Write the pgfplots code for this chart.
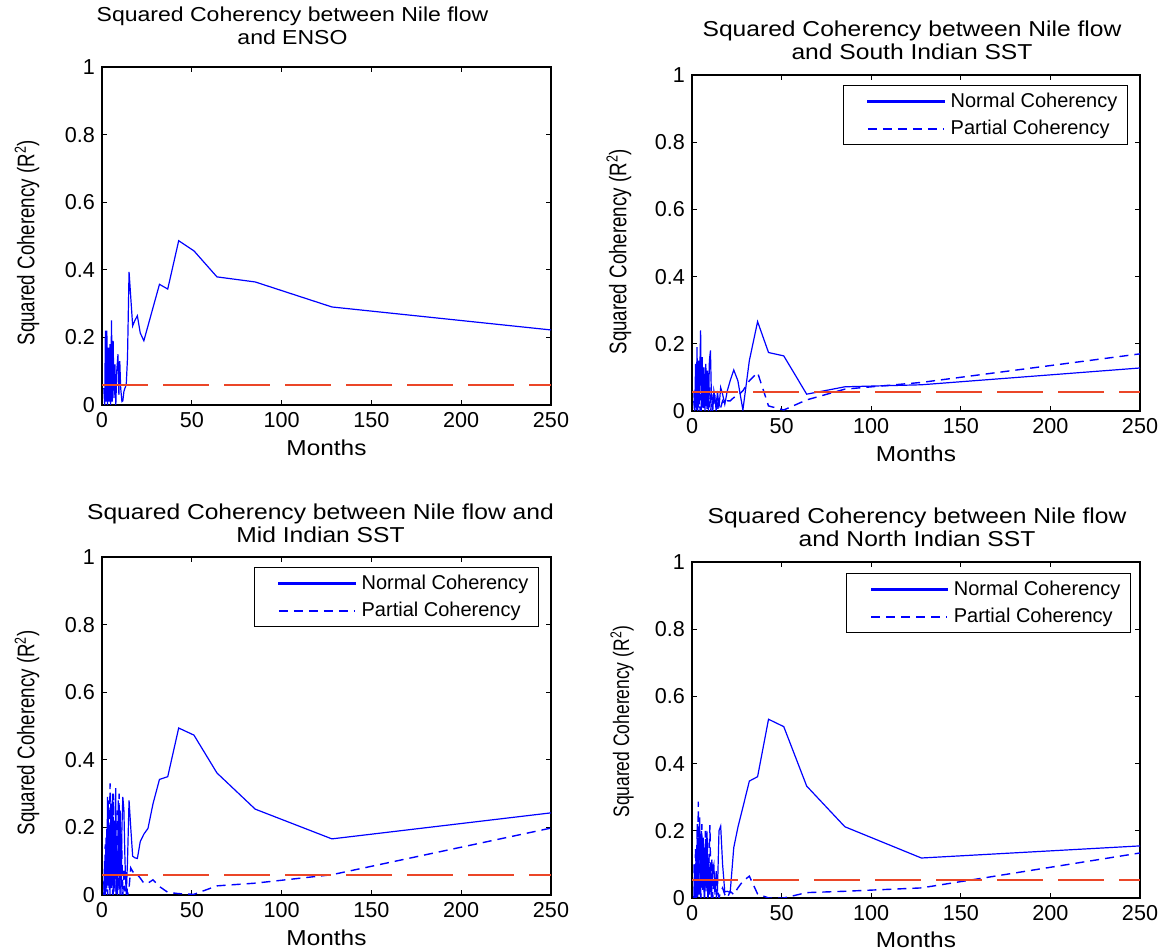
\documentclass[border=0pt]{standalone}
\usepackage{fontspec}
\setmainfont{Liberation Sans}
\usepackage{graphicx}
\usepackage{pgfplots}
\pgfplotsset{compat=1.18}
\definecolor{refred}{RGB}{235,70,40}
\newcommand{\ttl}[2]{\scalebox{1.14}[1]{\begin{tabular}{@{}c@{}}#1\\#2\end{tabular}}}
\pgfplotsset{
  cohax/.style={
    scale only axis, width=224.5pt, height=169pt,
    xmin=0, xmax=250, ymin=0, ymax=1,
    xtick={0,50,100,150,200,250}, ytick={0,0.2,0.4,0.6,0.8,1},
    tick align=inside, major tick length=2.5pt,
    axis line style={line width=0.6pt},
    every tick/.style={black, line width=0.6pt},
    /pgf/number format/assume math mode=true,
    tick label style={font=\fontsize{10.8}{12}\selectfont},
    xlabel={\scalebox{1.13}[1]{Months}},
    xlabel style={at={(axis description cs:0.5,0)}, anchor=base, yshift=-25.3pt, font=\fontsize{10.8}{12}\selectfont},
    ylabel={\scalebox{0.78}[1]{Squared Coherency (R\textsuperscript{2})}},
    ylabel style={at={(axis description cs:-0.167,0.48)}, anchor=center, font=\fontsize{12}{13}\selectfont},
    title style={at={(axis description cs:0.5,1)}, anchor=south, inner sep=0pt, font=\fontsize{10.8}{11.5}\selectfont},
    legend style={at={(0.973,0.97)}, anchor=north east, draw=black, line width=0.5pt,
      font=\fontsize{10}{12}\selectfont, inner xsep=3pt, inner ysep=1.5pt, row sep=1pt, cells={anchor=west}},
  },
  normal/.style={blue, line width=0.6pt, solid,
    legend image code/.code={\path (0pt,0pt); \path (48pt,0pt); \fill[blue] (9pt,-0.35pt) rectangle (47pt,0.35pt);}},
  partial/.style={blue, line width=0.7pt, dash pattern=on 4.5pt off 3pt,
    legend image code/.code={\path (0pt,0pt); \path (48pt,0pt); \draw[##1, draw=blue, line width=0.7pt] (9pt,0pt) -- (47pt,0pt);}},
  thresh/.style={refred, line width=1pt, dash pattern=on 23pt off 7.5pt, forget plot},
}
\begin{document}
\begin{tikzpicture}
\path[use as bounding box] (0,0) rectangle (583.5pt,475.5pt);

% Top-left: ENSO
\begin{axis}[cohax, at={(51pt,273pt)}, anchor=south west,
  title={\ttl{Squared Coherency between Nile flow}{and ENSO}},
  title style={yshift=1.4pt, xshift=-17pt, font=\fontsize{10.1}{11.5}\selectfont}]
\addplot[normal] coordinates {
(1.0,0.05)(1.5,0.0)(1.9,0.22)(2.3,0.01)(2.7,0.22)(3.1,0.0)(3.5,0.17)(3.9,0.01)(4.4,0.18)(4.8,0.0)(5.3,0.25)(5.7,0.01)(6.2,0.19)(6.7,0.02)(7.2,0.12)(7.7,0.0)(8.2,0.1)(8.9,0.15)(9.4,0.03)(9.9,0.13)(10.4,0.05)(11.1,0.01)(11.6,0.012)(12.2,0.04)(12.8,0.05)(13.5,0.06)(14.2,0.14)(15.06,0.394)(16,0.32)(17.07,0.234)(18.3,0.25)(19.7,0.264)(21.3,0.213)(23.3,0.19)(25.6,0.234)(28.4,0.288)(32,0.357)(36.6,0.343)(42.7,0.486)(51.2,0.456)(64,0.379)(85.3,0.364)(128,0.29)(250,0.222)};
\addplot[thresh] coordinates {(0,0.058)(250,0.058)};
\end{axis}

% Top-right: South Indian SST
\begin{axis}[cohax, at={(346pt,270pt)}, anchor=south west, width=224pt, height=168pt,
  title={\ttl{Squared Coherency between Nile flow}{and South Indian SST}},
  title style={yshift=-1.95pt, xshift=-2pt},
  ylabel style={at={(axis description cs:-0.163,0.474)}}]
\addplot[normal] coordinates {
(1.0,0.06)(1.5,0.0)(2.0,0.14)(2.4,0.01)(2.8,0.19)(3.2,0.0)(3.6,0.15)(4.0,0.02)(4.8,0.24)(5.2,0.0)(5.7,0.16)(6.2,0.02)(6.7,0.13)(7.2,0.0)(7.7,0.14)(8.2,0.02)(8.7,0.12)(9.2,0.0)(9.7,0.15)(10.3,0.18)(10.8,0.05)(11.6,0.0)(12.2,0.06)(12.8,0.04)(13.5,0.0)(14.2,0.06)(15.06,0.01)(16,0.07)(17.07,0.05)(18.3,0.02)(19.7,0.06)(21.3,0.09)(23.3,0.122)(25.6,0.09)(28.4,0.003)(32,0.15)(36.6,0.266)(42.7,0.174)(51.2,0.164)(64,0.05)(85.3,0.072)(128,0.078)(250,0.128)};
\addlegendentry{Normal Coherency}
\addplot[partial] coordinates {
(1.0,0.03)(1.5,0.0)(2.0,0.05)(2.5,0.0)(3.0,0.06)(3.5,0.01)(4.0,0.07)(4.5,0.0)(5.0,0.05)(5.5,0.01)(6.0,0.06)(6.5,0.0)(7.0,0.07)(7.5,0.01)(8.0,0.05)(8.5,0.0)(9.0,0.06)(9.5,0.01)(10.0,0.07)(10.5,0.0)(11.0,0.05)(11.6,0.02)(12.2,0.02)(12.8,0.05)(13.5,0.05)(14.2,0.0)(15.06,0.03)(16,0.01)(17.07,0.03)(18.3,0.02)(19.7,0.03)(21.3,0.03)(23.3,0.04)(25.6,0.045)(28.4,0.06)(32,0.09)(36.6,0.114)(42.7,0.015)(51.2,0.003)(64,0.033)(85.3,0.065)(128,0.085)(250,0.17)};
\addlegendentry{Partial Coherency}
\addplot[thresh] coordinates {(0,0.056)(250,0.056)};
\end{axis}

% Bottom-left: Mid Indian SST
\begin{axis}[cohax, at={(51pt,28pt)}, anchor=south west,
  title={\ttl{Squared Coherency between Nile flow and}{Mid Indian SST}},
  title style={yshift=-2.45pt, xshift=-3pt}]
\addplot[normal] coordinates {
(1.0,0.0)(1.4,0.1)(1.8,0.0)(2.2,0.17)(2.6,0.02)(3.1,0.29)(3.5,0.03)(4.0,0.2)(4.4,0.0)(4.9,0.27)(5.3,0.02)(5.8,0.3)(6.3,0.0)(6.8,0.22)(7.2,0.01)(7.6,0.316)(8.1,0.05)(8.6,0.0)(9.1,0.28)(9.6,0.02)(10.1,0.25)(10.6,0.0)(11.1,0.2)(11.6,0.29)(12.2,0.25)(12.8,0.1)(13.5,0.0)(14.2,0.1)(15.06,0.28)(16,0.2)(17.07,0.115)(18.3,0.11)(19.7,0.108)(21.3,0.158)(23.3,0.18)(25.6,0.197)(28.4,0.27)(32,0.342)(36.6,0.35)(42.7,0.494)(51.2,0.473)(64,0.361)(85.3,0.254)(128,0.166)(250,0.243)};
\addlegendentry{Normal Coherency}
\addplot[partial] coordinates {
(1.0,0.04)(1.4,0.0)(1.8,0.15)(2.2,0.01)(2.7,0.2)(3.1,0.0)(3.5,0.28)(3.9,0.02)(4.5,0.33)(5.0,0.03)(5.5,0.22)(5.9,0.0)(6.4,0.3)(6.9,0.05)(7.4,0.2)(7.9,0.0)(8.4,0.25)(8.9,0.01)(9.5,0.3)(10.0,0.0)(10.5,0.2)(11.1,0.12)(11.6,0.0)(12.2,0.08)(12.8,0.01)(13.5,0.05)(14.2,0.0)(15.06,0.02)(16,0.08)(17.07,0.07)(18.3,0.06)(19.7,0.06)(21.3,0.05)(23.3,0.035)(25.6,0.035)(28.4,0.045)(32,0.025)(36.6,0.008)(42.7,0.004)(51.2,0.002)(64,0.027)(85.3,0.035)(128,0.06)(250,0.198)};
\addlegendentry{Partial Coherency}
\addplot[thresh] coordinates {(0,0.058)(250,0.058)};
\end{axis}

% Bottom-right: North Indian SST
\begin{axis}[cohax, at={(346pt,26.5pt)}, anchor=south west, width=224pt, height=168pt,
  title={\ttl{Squared Coherency between Nile flow}{and North Indian SST}},
  title style={yshift=-1.95pt, xshift=0.5pt},
  xlabel style={yshift=0.5pt},
  ylabel style={at={(axis description cs:-0.156,0.525)}, font=\fontsize{11.2}{12}\selectfont},
  legend style={at={(0.98,0.967)}}]
\addplot[normal] coordinates {
(1.0,0.0)(1.4,0.08)(1.8,0.0)(2.2,0.12)(2.6,0.01)(3.1,0.18)(3.5,0.02)(3.9,0.2)(4.3,0.24)(4.8,0.0)(5.3,0.2)(5.8,0.03)(6.3,0.18)(6.8,0.0)(7.3,0.15)(7.8,0.02)(8.3,0.2)(8.8,0.0)(9.3,0.12)(9.8,0.01)(10.3,0.1)(10.8,0.0)(11.4,0.08)(12.2,0.1)(12.8,0.01)(13.5,0.08)(14.2,0.02)(15.06,0.2)(16,0.214)(17.07,0.1)(18.3,0.018)(19.7,0.02)(21.3,0.016)(23.3,0.15)(25.6,0.21)(28.4,0.27)(32,0.348)(36.6,0.361)(42.7,0.532)(51.2,0.51)(64,0.333)(85.3,0.212)(128,0.119)(250,0.155)};
\addlegendentry{Normal Coherency}
\addplot[partial] coordinates {
(1.1,0.1)(1.5,0.02)(2.0,0.15)(2.4,0.0)(2.9,0.22)(3.2,0.0)(3.5,0.287)(4.0,0.01)(4.5,0.2)(5.0,0.0)(5.5,0.22)(6.0,0.02)(6.5,0.15)(7.0,0.0)(7.5,0.2)(8.0,0.03)(8.5,0.18)(9.0,0.0)(9.5,0.12)(10.0,0.217)(10.5,0.03)(11.1,0.12)(11.6,0.0)(12.2,0.08)(12.8,0.05)(13.5,0.0)(14.2,0.03)(15.06,0.0)(16,0.02)(17.07,0.03)(18.3,0.01)(19.7,0.0)(21.3,0.02)(23.3,0.01)(25.6,0.03)(28.4,0.05)(32,0.065)(36.6,0.012)(42.7,0.0)(51.2,0.0)(64,0.016)(85.3,0.02)(128,0.03)(250,0.134)};
\addlegendentry{Partial Coherency}
\addplot[thresh] coordinates {(0,0.054)(250,0.054)};
\end{axis}
\end{tikzpicture}
\end{document}
